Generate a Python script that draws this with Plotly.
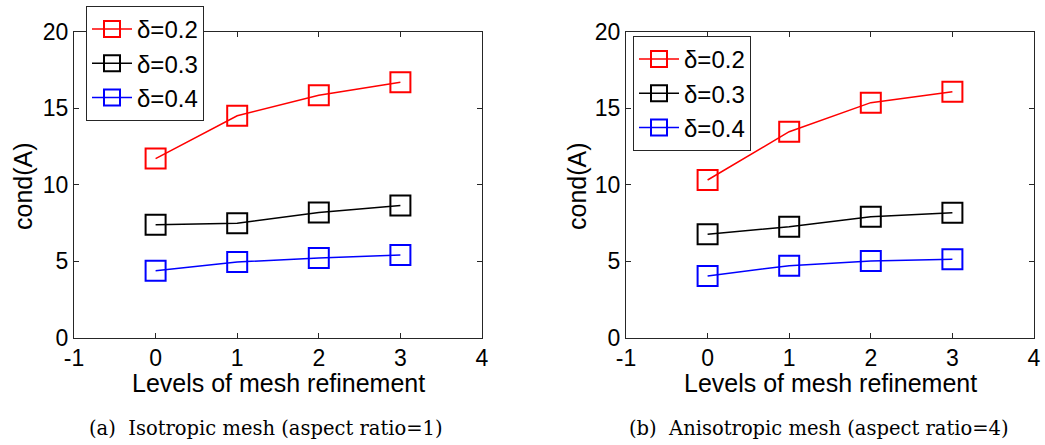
import plotly.graph_objects as go

levels = [0, 1, 2, 3]
deltas = ["δ=0.2", "δ=0.3", "δ=0.4"]
colors = ["#ff0000", "#000000", "#0000ff"]

iso_02 = [11.7, 14.5, 15.85, 16.7]
iso_03 = [7.37, 7.48, 8.17, 8.63]
iso_04 = [4.37, 4.94, 5.2, 5.39]

aniso_02 = [10.3, 13.46, 15.36, 16.08]
aniso_03 = [6.75, 7.25, 7.9, 8.16]
aniso_04 = [4.02, 4.7, 5.0, 5.11]

xtick_vals = [-1, 0, 1, 2, 3, 4]
xtick_text = ["-1", "0", "1", "2", "3", "4"]
ytick_vals = [0, 5, 10, 15, 20]
ytick_text = ["0", "5", "10", "15", "20"]

captions = ["(a)  Isotropic mesh (aspect ratio=1)", "(b)  Anisotropic mesh (aspect ratio=4)"]
xlabel = "Levels of mesh refinement"
ylabel = "cond(A)"

W, H = 1045, 445
sans = "Liberation Sans, Arial, sans-serif"

fig = go.Figure()

panels = [
    ([iso_02, iso_03, iso_04], "x", "y", "legend"),
    ([aniso_02, aniso_03, aniso_04], "x2", "y2", "legend2"),
]
for series, xa, ya, lg in panels:
    for vals, name, col in zip(series, deltas, colors):
        fig.add_trace(go.Scatter(
            x=levels, y=vals, name=name, mode="lines+markers",
            line=dict(color=col, width=1.5),
            marker=dict(symbol="square-open", size=20, color=col, line=dict(width=2, color=col)),
            xaxis=xa, yaxis=ya, legend=lg,
        ))

def px_x(p):
    return p / W

def px_y(p):
    return (H - p) / H

xdom1 = [px_x(74), px_x(482)]
xdom2 = [px_x(626), px_x(1034)]
ydom = [px_y(337.5), px_y(31.7)]

axis_common = dict(
    showgrid=False, zeroline=False, showline=True, linecolor="#262626", linewidth=1,
    mirror="ticks", ticks="inside", ticklen=5, tickcolor="#262626", automargin=False,
    tickfont=dict(family=sans, size=23, color="#000"),
)

legend_common = dict(
    xanchor="left", yanchor="top", bgcolor="white", bordercolor="#262626", borderwidth=1,
    font=dict(family=sans, size=24, color="#000"), tracegroupgap=0, itemsizing="trace",
    itemwidth=40,
)

fig.update_layout(
    width=W, height=H, margin=dict(l=0, r=0, t=0, b=0, autoexpand=False),
    plot_bgcolor="white", paper_bgcolor="white",
    xaxis=dict(domain=xdom1, range=[-1, 4], tickvals=xtick_vals, ticktext=xtick_text, anchor="y", **axis_common),
    yaxis=dict(domain=ydom, range=[0, 20], tickvals=ytick_vals, ticktext=ytick_text, anchor="x", **axis_common),
    xaxis2=dict(domain=xdom2, range=[-1, 4], tickvals=xtick_vals, ticktext=xtick_text, anchor="y2", **axis_common),
    yaxis2=dict(domain=ydom, range=[0, 20], tickvals=ytick_vals, ticktext=ytick_text, anchor="x2", **axis_common),
    legend=dict(x=px_x(86), y=px_y(6), **legend_common),
    legend2=dict(x=px_x(633), y=px_y(36), **legend_common),
    showlegend=True,
)

annots = []
for xc, ytx in [((74 + 482) / 2, 23), ((626 + 1034) / 2, 577)]:
    annots.append(dict(text=xlabel, x=px_x(xc), y=px_y(382.7), xref="paper", yref="paper",
                       xanchor="center", yanchor="middle", showarrow=False,
                       font=dict(family=sans, size=25, color="#000")))
    annots.append(dict(text=ylabel, x=px_x(ytx), y=px_y(186), xref="paper", yref="paper",
                       xanchor="center", yanchor="middle", showarrow=False, textangle=-90,
                       font=dict(family=sans, size=25, color="#000")))
annots.append(dict(text=captions[0], x=px_x(266), y=px_y(428), xref="paper", yref="paper",
                   xanchor="center", yanchor="middle", showarrow=False,
                   font=dict(family="DejaVu Serif, serif", size=19.5, color="#000")))
annots.append(dict(text=captions[1], x=px_x(819), y=px_y(428), xref="paper", yref="paper",
                   xanchor="center", yanchor="middle", showarrow=False,
                   font=dict(family="DejaVu Serif, serif", size=19.5, color="#000")))
fig.update_layout(annotations=annots)

fig.write_html("out.html", config={"displayModeBar": False},
               post_script="document.body.style.margin='0';document.body.style.overflow='hidden';")
